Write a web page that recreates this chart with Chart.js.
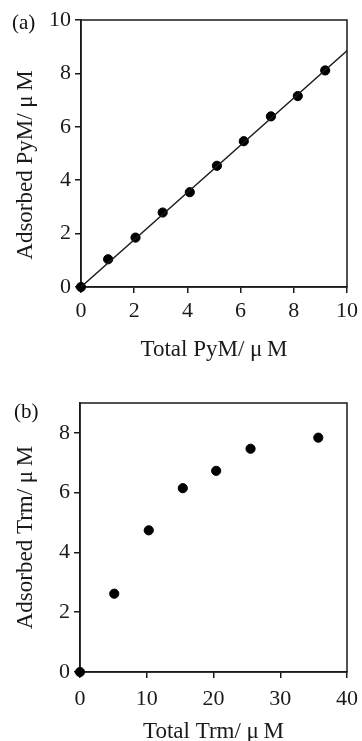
<!DOCTYPE html>
<html>
<head>
<meta charset="utf-8">
<script src="https://cdn.jsdelivr.net/npm/chart.js@4"></script>
<style>
  html, body { margin: 0; padding: 0; background: #fff; }
  body { width: 362px; height: 741px; position: relative; overflow: hidden; }
  canvas { position: absolute; left: 0; }
  #chartA { top: 0; }
  #chartB { top: 380px; }
  .tag { position: absolute; font-family: "Liberation Serif", serif; font-size: 21px; color: #111; line-height: 1; }
</style>
</head>
<body>
<canvas id="chartA" width="362" height="370"></canvas>
<canvas id="chartB" width="362" height="361"></canvas>
<div class="tag" style="left:12px; top:12px;">(a)</div>
<div class="tag" style="left:14px; top:401px;">(b)</div>
<script>
'use strict';

// (a) PyM
const pymTotal = [0, 1.02, 2.05, 3.07, 4.09, 5.11, 6.12, 7.14, 8.15, 9.18];
const pymAdsorbed = [0, 1.04, 1.85, 2.79, 3.55, 4.54, 5.46, 6.39, 7.15, 8.11];
const pymFitX = [0, 10];
const pymFitY = [0, 8.85];
const ticksA = [0, 2, 4, 6, 8, 10];

// (b) Trm
const trmTotal = [0, 5.13, 10.3, 15.4, 20.4, 25.55, 35.7];
const trmAdsorbed = [0, 2.62, 4.74, 6.15, 6.73, 7.47, 7.84];
const ticksBx = [0, 10, 20, 30, 40];
const ticksBy = [0, 2, 4, 6, 8];

const ink = '#1a1a1a';
const serif = '"Liberation Serif", "Times New Roman", serif';

Chart.defaults.font.family = serif;
Chart.defaults.color = ink;

// box round the plot area, drawn under the points
const frame = {
  id: 'frame',
  beforeDatasetsDraw(chart) {
    const a = chart.chartArea;
    const c = chart.ctx;
    c.save();
    c.strokeStyle = ink;
    c.lineWidth = 1.5;
    c.strokeRect(a.left, a.top, a.right - a.left, a.bottom - a.top);
    c.restore();
  }
};

function pairs(xs, ys) {
  return xs.map((x, i) => ({ x: x, y: ys[i] }));
}

function axis(min, max, tickVals, title, titleFont, titlePad, tickFont, size) {
  return {
    type: 'linear',
    min: min,
    max: max,
    afterBuildTicks: s => { s.ticks = tickVals.map(v => ({ value: v })); },
    afterFit: s => {
      if (s.isHorizontal()) s.height = size; else s.width = size;
    },
    grid: { drawOnChartArea: false, drawTicks: true, tickLength: 6, color: ink, lineWidth: 1.5 },
    border: { display: true, color: ink, width: 1.5 },
    ticks: { font: tickFont, color: ink, padding: 4, maxRotation: 0 },
    title: { display: true, text: title, font: titleFont, color: ink, padding: titlePad }
  };
}

function makeChart(id, datasets, scales, pad) {
  return new Chart(document.getElementById(id), {
    type: 'scatter',
    data: { datasets: datasets },
    options: {
      responsive: false,
      animation: false,
      devicePixelRatio: 1,
      layout: { padding: pad },
      plugins: { legend: { display: false }, tooltip: { enabled: false } },
      scales: scales
    },
    plugins: [frame]
  });
}

const nb = '\u00a0';

makeChart('chartA', [
  {
    label: 'fit',
    type: 'line',
    data: pairs(pymFitX, pymFitY),
    borderColor: ink,
    borderWidth: 1.5,
    pointRadius: 0,
    clip: false
  },
  {
    label: 'PyM',
    data: pairs(pymTotal, pymAdsorbed),
    backgroundColor: '#000',
    borderColor: '#000',
    pointRadius: 4.6,
    clip: false
  }
], {
  x: axis(0, 10, ticksA, 'Total PyM/ \u03bc\u2009M', { size: 23, lineHeight: '24px' }, { top: 0, bottom: 8 }, { size: 22, lineHeight: '28px' }, 83),
  y: axis(0, 10, ticksA, 'Adsorbed PyM/ \u03bc\u2009M' + nb.repeat(4), { size: 23, lineHeight: '24px' }, { top: 14, bottom: 0 }, { size: 22 }, 81)
}, { top: 20, right: 13, left: 0, bottom: 0 });

makeChart('chartB', [
  {
    label: 'Trm',
    data: pairs(trmTotal, trmAdsorbed),
    backgroundColor: '#000',
    borderColor: '#000',
    pointRadius: 4.6,
    clip: false
  }
], {
  x: axis(0, 40, ticksBx, 'Total Trm/ \u03bc\u2009M', { size: 23, lineHeight: '18px' }, { top: 0, bottom: 0 }, { size: 22, lineHeight: '34px' }, 69),
  y: axis(0, 9, ticksBy, 'Adsorbed Trm/ \u03bc\u2009M', { size: 23, lineHeight: '24px' }, { top: 14, bottom: 0 }, { size: 22 }, 80)
}, { top: 23, right: 14, left: 0, bottom: 0 });
</script>
</body>
</html>
